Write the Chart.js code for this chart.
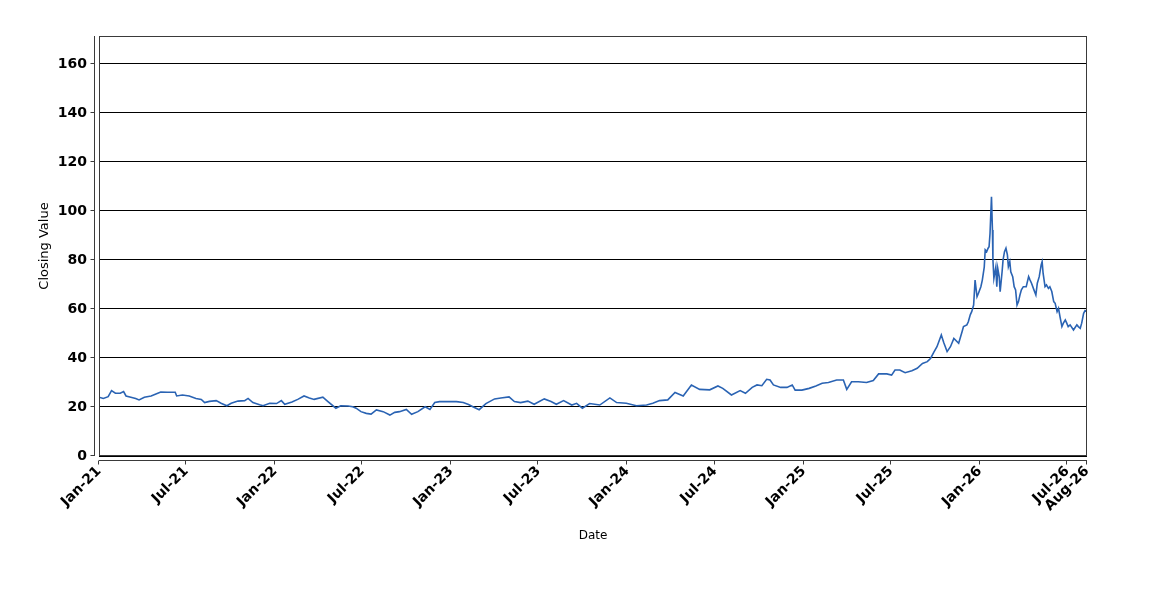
<!DOCTYPE html>
<html>
<head>
<meta charset="utf-8">
<title>Closing Value</title>
<script src="https://cdn.jsdelivr.net/npm/chart.js@4.4.1/dist/chart.umd.min.js"></script>
<style>
  html, body { margin: 0; padding: 0; background: #ffffff; }
  #lineChart { display: block; }
</style>
</head>
<body>
<canvas id="lineChart" width="1150" height="600"></canvas>
<script>
// Dates and closing values
const dates = [
  "2021-01-01", "2021-01-10", "2021-01-20", "2021-01-27", "2021-02-04", "2021-02-14", "2021-02-21", "2021-02-26",
  "2021-03-08", "2021-03-18", "2021-03-25", "2021-04-05", "2021-04-19", "2021-04-29", "2021-05-09", "2021-05-23",
  "2021-06-08", "2021-06-11", "2021-06-23", "2021-07-07", "2021-07-21", "2021-08-01", "2021-08-08", "2021-08-18",
  "2021-09-01", "2021-09-11", "2021-09-23", "2021-10-02", "2021-10-16", "2021-10-30", "2021-11-06", "2021-11-16",
  "2021-11-30", "2021-12-07", "2021-12-21",
  "2022-01-04", "2022-01-14", "2022-01-21", "2022-02-05", "2022-02-17", "2022-03-02", "2022-03-13", "2022-03-23",
  "2022-04-10", "2022-04-20", "2022-05-07", "2022-05-17", "2022-06-01", "2022-06-11", "2022-06-18", "2022-06-28",
  "2022-07-09", "2022-07-19", "2022-07-30", "2022-08-13", "2022-08-27", "2022-09-06", "2022-09-16", "2022-09-30",
  "2022-10-11", "2022-10-24", "2022-11-08", "2022-11-18", "2022-11-28", "2022-12-08", "2022-12-29",
  "2023-01-12", "2023-01-26", "2023-02-06", "2023-02-16", "2023-02-28", "2023-03-14", "2023-04-01", "2023-04-14",
  "2023-05-01", "2023-05-12", "2023-05-25", "2023-06-09", "2023-06-22", "2023-07-13", "2023-07-27", "2023-08-07",
  "2023-08-22", "2023-09-08", "2023-09-18", "2023-09-30", "2023-10-15", "2023-11-05", "2023-11-26", "2023-12-10",
  "2023-12-30",
  "2024-01-20", "2024-02-10", "2024-02-23", "2024-03-08", "2024-03-25", "2024-04-09", "2024-04-26", "2024-05-13",
  "2024-05-30", "2024-06-20", "2024-07-07", "2024-07-17", "2024-08-04", "2024-08-22", "2024-09-02", "2024-09-16",
  "2024-09-26", "2024-10-06", "2024-10-16", "2024-10-23", "2024-10-30", "2024-11-14", "2024-11-27", "2024-12-08",
  "2024-12-14", "2024-12-28",
  "2025-01-12", "2025-01-26", "2025-02-08", "2025-02-21", "2025-03-10", "2025-03-24", "2025-03-31", "2025-04-10",
  "2025-04-24", "2025-05-11", "2025-05-25", "2025-06-05", "2025-06-22", "2025-07-02", "2025-07-09", "2025-07-19",
  "2025-07-30", "2025-08-13", "2025-08-24", "2025-09-04", "2025-09-14", "2025-09-21", "2025-09-27", "2025-10-04",
  "2025-10-13", "2025-10-18", "2025-10-25", "2025-11-01", "2025-11-08", "2025-11-18", "2025-11-25", "2025-11-28",
  "2025-12-05", "2025-12-08", "2025-12-12", "2025-12-15", "2025-12-19", "2025-12-22", "2025-12-26", "2025-12-29",
  "2026-01-03", "2026-01-06", "2026-01-10", "2026-01-12", "2026-01-15", "2026-01-18", "2026-01-20", "2026-01-22",
  "2026-01-25", "2026-01-27", "2026-01-28", "2026-01-30", "2026-02-03", "2026-02-05", "2026-02-07", "2026-02-10",
  "2026-02-12", "2026-02-16", "2026-02-18", "2026-02-21", "2026-02-24", "2026-02-27", "2026-03-01", "2026-03-04",
  "2026-03-06", "2026-03-10", "2026-03-13", "2026-03-16", "2026-03-19", "2026-03-22", "2026-03-25", "2026-03-28",
  "2026-04-01", "2026-04-07", "2026-04-12", "2026-04-15", "2026-04-18", "2026-04-23", "2026-04-27", "2026-04-30",
  "2026-05-04", "2026-05-08", "2026-05-10", "2026-05-12", "2026-05-16", "2026-05-19", "2026-05-23", "2026-05-26",
  "2026-05-30", "2026-06-03", "2026-06-06", "2026-06-10", "2026-06-13", "2026-06-16", "2026-06-20", "2026-06-23",
  "2026-06-27", "2026-06-30", "2026-07-03", "2026-07-07", "2026-07-14", "2026-07-21", "2026-07-24", "2026-07-28",
  "2026-07-31", "2026-08-04", "2026-08-07", "2026-08-11"
];

const closingValues = [
  24.0, 23.5, 24.2, 26.7, 25.6, 25.6, 26.3, 24.5,
  24.0, 23.5, 22.9, 24.0, 24.5, 25.3, 26.1, 26.0,
  26.0, 24.5, 24.9, 24.5, 23.5, 23.1, 21.8, 22.3,
  22.6, 21.5, 20.5, 21.5, 22.4, 22.6, 23.5, 21.8,
  20.9, 20.5, 21.5,
  21.4, 22.6, 21.1, 22.0, 23.1, 24.5, 23.7, 23.1,
  24.0, 22.3, 19.5, 20.5, 20.4, 20.1, 19.5, 18.1,
  17.4, 17.1, 18.8, 18.1, 16.7, 17.8, 18.1, 19.0,
  17.0, 18.1, 20.1, 19.0, 21.8, 22.2, 22.2,
  22.2, 21.8, 21.0, 20.0, 18.9, 21.4, 23.3, 23.7,
  24.1, 22.2, 21.8, 22.4, 21.1, 23.3, 22.2, 21.1,
  22.6, 20.8, 21.5, 19.5, 21.4, 20.8, 23.7, 21.8,
  21.5,
  20.5, 20.8, 21.5, 22.6, 22.9, 25.9, 24.5, 29.0,
  27.2, 27.0, 28.6, 27.6, 24.9, 26.7, 25.6, 28.0,
  29.0, 28.7, 31.3, 31.0, 29.0, 28.0, 28.0, 29.0,
  26.9, 26.9,
  27.6, 28.6, 29.7, 30.0, 31.0, 31.0, 27.2, 30.3,
  30.3, 30.0, 30.8, 33.5, 33.5, 33.0, 35.1, 35.1,
  34.0, 34.8, 35.8, 37.8, 38.5, 39.9, 42.2, 44.6,
  49.4, 46.3, 42.6, 44.6, 48.0, 46.0, 50.7, 52.8,
  53.5, 54.8, 57.6, 58.9, 61.6, 71.8, 65.0, 66.4,
  69.1, 71.8, 77.1, 84.1, 83.4, 84.8, 85.4, 90.9,
  105.8, 92.2, 80.0, 72.5, 77.1, 69.1, 76.6, 73.2,
  67.1, 75.2, 80.0, 83.4, 84.8, 82.1, 77.3, 79.3,
  75.2, 73.2, 69.1, 67.8, 61.6, 63.0, 65.7, 67.8,
  69.1, 69.1, 73.2, 71.8, 70.5, 67.8, 65.7, 70.5,
  73.2, 78.0, 79.3, 74.6, 69.1, 69.8, 68.4, 69.1,
  67.1, 63.0, 62.3, 58.9, 60.3, 56.9, 52.8, 54.2,
  55.5, 54.2, 52.8, 53.5, 51.4, 53.5, 52.8, 52.1,
  54.2, 58.2, 59.3, 58.9
];

// Y axis tick values and the top of the value range
const yTicks = [0, 20, 40, 60, 80, 100, 120, 140, 160];
const yMax = 171.4;

// Month names for the "Mon-YY" date labels
const monthNames = ["Jan", "Feb", "Mar", "Apr", "May", "Jun", "Jul", "Aug", "Sep", "Oct", "Nov", "Dec"];

const toTime = (d) => Date.parse(d + "T00:00:00Z");

const formatDate = (t) => {
  const d = new Date(t);
  const yy = String(d.getUTCFullYear() % 100).padStart(2, "0");
  return monthNames[d.getUTCMonth()] + "-" + yy;
};

const points = dates.map((d, i) => ({ x: toTime(d), y: closingValues[i] }));
const xMin = points[0].x;
const xMax = points[points.length - 1].x;

// Ticks on the first date, every Jan/Jul in between, and the last date
const buildDateTicks = () => {
  const ticks = [{ value: xMin }];
  const start = new Date(xMin);
  for (let y = start.getUTCFullYear(); y <= new Date(xMax).getUTCFullYear(); y++) {
    [0, 6].forEach((m) => {
      const t = Date.UTC(y, m, 1);
      if (t > xMin && t < xMax) ticks.push({ value: t });
    });
  }
  ticks.push({ value: xMax });
  return ticks;
};

// Plot frame plus the axis lines set a few pixels away from it
const frameAndAxes = {
  id: "frameAndAxes",
  afterDraw(chart) {
    const { ctx, chartArea: a, scales } = chart;
    const gap = 5;
    ctx.save();
    ctx.strokeStyle = "#3a3a3a";
    ctx.lineWidth = 1;
    ctx.strokeRect(Math.round(a.left) + 0.5, Math.round(a.top) + 0.5,
      Math.round(a.width) - 1, Math.round(a.height) - 1);

    const ax = Math.round(a.left - gap) + 0.5;
    const ay = Math.round(a.bottom + gap) - 0.5;
    ctx.beginPath();
    ctx.moveTo(ax, a.top);
    ctx.lineTo(ax, a.bottom);
    scales.y.ticks.forEach((t) => {
      const py = Math.round(scales.y.getPixelForValue(t.value)) - 0.5;
      ctx.moveTo(ax - 4, py);
      ctx.lineTo(ax, py);
    });
    ctx.moveTo(a.left, ay);
    ctx.lineTo(a.right, ay);
    scales.x.ticks.forEach((t) => {
      const px = Math.round(scales.x.getPixelForValue(t.value)) - 0.5;
      ctx.moveTo(px, ay);
      ctx.lineTo(px, ay + 4);
    });
    ctx.stroke();
    ctx.restore();
  },
};

const container = document.getElementById("lineChart");

new Chart(container, {
  type: "line",
  data: {
    datasets: [
      {
        label: "Closing Value",
        data: points,
        borderColor: "#2a63b3",
        borderWidth: 1.6,
        pointRadius: 0,
        tension: 0,
        fill: false,
      },
    ],
  },
  options: {
    responsive: false,
    animation: false,
    devicePixelRatio: 1,
    layout: {
      padding: { top: 36, right: 63, left: 0, bottom: 0 },
    },
    plugins: {
      legend: { display: false },
      tooltip: { enabled: false },
    },
    scales: {
      x: {
        type: "linear",
        min: xMin,
        max: xMax,
        afterBuildTicks: (scale) => {
          scale.ticks = buildDateTicks();
        },
        afterFit: (scale) => {
          scale.height = 144;
        },
        grid: { display: false, drawTicks: false },
        border: { display: false },
        ticks: {
          autoSkip: false,
          minRotation: 45,
          maxRotation: 45,
          padding: 7,
          color: "#000000",
          font: { family: "'DejaVu Sans', sans-serif", size: 14, weight: "bold" },
          callback: (value) => formatDate(value),
        },
        title: {
          display: true,
          text: "Date",
          color: "#000000",
          font: { family: "'DejaVu Sans', sans-serif", size: 12 },
          padding: { top: 0, bottom: 57 },
        },
      },
      y: {
        min: 0,
        max: yMax,
        afterBuildTicks: (scale) => {
          scale.ticks = yTicks.map((v) => ({ value: v }));
        },
        afterFit: (scale) => {
          scale.width = 99;
        },
        grid: { color: "#000000", lineWidth: 1, drawTicks: false },
        border: { display: false },
        ticks: {
          padding: 12,
          color: "#000000",
          font: { family: "'DejaVu Sans', sans-serif", size: 14, weight: "bold" },
        },
        title: {
          display: true,
          text: "Closing Value",
          color: "#000000",
          font: { family: "'DejaVu Sans', sans-serif", size: 13 },
          padding: { top: 37, bottom: 0 },
        },
      },
    },
  },
  plugins: [frameAndAxes],
});
</script>
</body>
</html>
